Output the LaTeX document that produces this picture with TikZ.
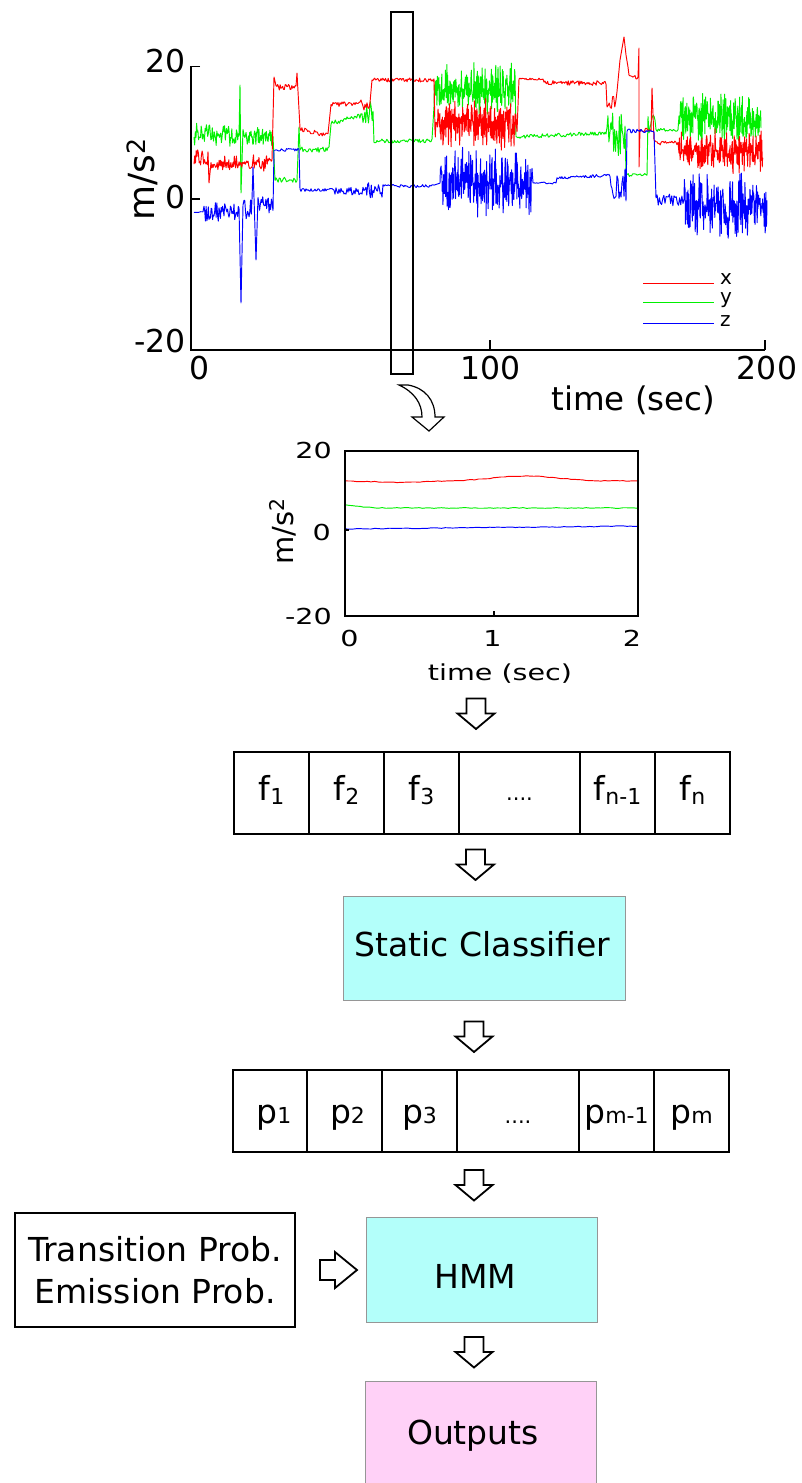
\documentclass[tikz,border=0pt]{standalone}
\usepackage{fontspec}
\setmainfont{DejaVu Sans}
\usetikzlibrary{calc}
\definecolor{sigR}{RGB}{255,0,0}
\definecolor{sigG}{RGB}{0,240,0}
\definecolor{sigB}{RGB}{0,0,255}
\definecolor{cyanfill}{RGB}{179,255,250}
\definecolor{pinkfill}{RGB}{255,209,247}
\definecolor{boxgray}{RGB}{150,150,150}
\newcommand\lowsub[1]{\raisebox{-4pt}{\fontsize{22}{26}\selectfont #1}}
\newcommand\flatsub[1]{{\fontsize{22}{26}\selectfont #1}}
\newcommand\smalldots{{\fontsize{21}{25}\selectfont ....}}
\begin{document}
\begin{tikzpicture}[x=1pt,y=-1pt,
  axline/.style={line width=1.2pt},
  rl/.style={draw=sigR, line width=0.95pt, line join=round},
  gl/.style={draw=sigG, line width=0.95pt, line join=round},
  bl/.style={draw=sigB, line width=0.95pt, line join=round},
  ptext/.style={font=\fontsize{31.5}{37}\selectfont, inner sep=0pt},
  stext/.style={font=\fontsize{22}{26}\selectfont, inner sep=0pt, xscale=1.3},
  legtext/.style={font=\fontsize{20}{24}\selectfont, inner sep=0pt, anchor=base west},
  btext/.style={font=\fontsize{33}{42}\selectfont, inner sep=0pt},
  cell/.style={draw, line width=1.2pt, minimum height=82pt, inner sep=0pt, font=\fontsize{33}{40}\selectfont},
  fcell/.style={cell, text height=20pt, text depth=6pt},
  pcell/.style={cell, text height=30pt, text depth=6pt},
  colbox/.style={draw=boxgray, line width=1pt, inner sep=0pt},
  blockarrow/.style={draw=black, fill=white, line width=1.8pt, line join=miter},
  downarrow/.pic={\draw[blockarrow] (-9.5,-15) -- (9.5,-15) -- (9.5,0) -- (18.5,0) -- (0,15.5) -- (-18.5,0) -- (-9.5,0) -- cycle;},
  rightarrow/.pic={\draw[blockarrow] (-18.5,-10) -- (-3.5,-10) -- (-3.5,-18) -- (18.5,0) -- (-3.5,18) -- (-3.5,10) -- (-18.5,10) -- cycle;}
]
\useasboundingbox (0,0) rectangle (802,1483);
\fill[white] (0,0) rectangle (802,1483);
\pgfmathsetseed{4711}

% ---------------- top plot: signals ----------------
\draw[gl] plot[domain=194:239,samples=70] (\x,{135+6*(rand+rand)})
 -- (240,85) -- (241,193)
 -- plot[domain=243:273,samples=50] (\x,{135+6*(rand+rand)})
 -- plot[domain=275:297,samples=22] (\x,{180+3*rand})
 -- (299,127)
 -- plot[domain=300:329,samples=30] (\x,{150+3*rand})
 -- plot[domain=331:362,samples=30] (\x,{123-0.25*(\x-331)+2.5*rand})
 -- plot[domain=363:373,samples=12] (\x,{115+18*rand})
 -- plot[domain=374:432,samples=60] (\x,{141+2*rand})
 -- plot[domain=434:515,samples=220] (\x,{90+14*(rand+rand)})
 -- plot[domain=516:606,samples=90] (\x,{137-0.045*(\x-516)+2*rand})
 -- plot[domain=607:625,samples=20] (\x,{135+22*rand})
 -- plot[domain=626:647,samples=20] (\x,{175+1.5*rand})
 -- plot[domain=648:655,samples=8] (\x,{125+10*rand})
 -- plot[domain=656:678,samples=20] (\x,{130+1.5*rand})
 -- plot[domain=679:761,samples=220] (\x,{118+13*(rand+rand)});

\draw[rl] plot[domain=194:208,samples=20] (\x,{157+8*rand})
 -- (209,183)
 -- plot[domain=211:272,samples=90] (\x,{163+4.5*(rand+rand)})
 -- (274,77)
 -- plot[domain=276:296,samples=25] (\x,{87+3*rand})
 -- (297,73)
 -- plot[domain=300:328,samples=30] (\x,{129+0.25*(\x-300)+2.5*rand})
 -- plot[domain=331:360,samples=30] (\x,{104+2.5*rand})
 -- (361,100)
 -- plot[domain=363:370,samples=8] (\x,{106+4*rand})
 -- plot[domain=372:434,samples=70] (\x,{80+2*rand})
 -- plot[domain=435:517,samples=220] (\x,{123+14*(rand+rand)})
 -- plot[domain=519:543,samples=25] (\x,{79+1*rand})
 -- plot[domain=544:606,samples=70] (\x,{83+2.5*rand})
 -- plot[domain=607:617,samples=10] (\x,{100+9*rand})
 -- (620,60) -- (624,37) -- (626,55) -- (628,67)
 -- plot[domain=629:638,samples=10] (\x,{77+2*rand})
 -- (639,48) -- (639,167) -- (640,130)
 -- plot[domain=641:651,samples=10] (\x,{130+2*rand})
 -- (652,88) -- (654,140)
 -- plot[domain=656:678,samples=22] (\x,{143+2*rand})
 -- plot[domain=679:763,samples=220] (\x,{152+12*(rand+rand)});

\draw[bl] plot[domain=194:203,samples=5] (\x,{212+0.5*rand})
 -- plot[domain=204:239,samples=50] (\x,{212+6*(rand+rand)})
 -- (241,303) -- (243,205)
 -- plot[domain=244:252,samples=12] (\x,{210+12*rand})
 -- (253,167) -- (256,260)
 -- plot[domain=258:273,samples=20] (\x,{205+6*(rand+rand)})
 -- plot[domain=274:299,samples=25] (\x,{150+1.5*rand})
 -- plot[domain=300:334,samples=35] (\x,{190+1.5*rand})
 -- plot[domain=335:364,samples=30] (\x,{191+4*rand})
 -- plot[domain=365:382,samples=20] (\x,{190+8*rand})
 -- plot[domain=383:434,samples=50] (\x,{186+1.5*rand})
 -- plot[domain=440:532,samples=250] (\x,{182+18*(rand+rand)})
 -- plot[domain=533:556,samples=20] (\x,{183+1*rand})
 -- plot[domain=557:610,samples=55] (\x,{178-0.05*(\x-557)+1.5*rand})
 -- plot[domain=611:626,samples=16] (\x,{185+18*rand})
 -- plot[domain=627:654,samples=28] (\x,{131+2*rand})
 -- plot[domain=656:683,samples=25] (\x,{200+6*rand})
 -- plot[domain=684:767,samples=230] (\x,{205+17*(rand+rand)});

% axes
\draw[axline] (200,66.7) -- (191,66.7) -- (191,350) -- (765,350);
\draw[axline] (191,199) -- (200,199);
\draw[axline] (490,350) -- (490,340);
\draw[axline] (765,350) -- (765,340);
\node[ptext, anchor=east] (ty20) at (186,61) {20};
\node[ptext, anchor=east] (ty0) at (186,197) {0};
\node[ptext, anchor=east] (tym20) at (186,341) {-20};
\node[ptext] (tx0) at (199.5,368.5) {0};
\node[ptext] (tx100) at (490.5,368.5) {100};
\node[ptext] (tx200) at (767,368.5) {200};
\node[ptext, font=\fontsize{32.5}{38}\selectfont] (ttime) at (633.5,400) {time (sec)};
\node[inner sep=0pt, font=\fontsize{36}{42}\selectfont, rotate=90] (tylab) at (142,179) {m/s\textsuperscript{2}};
% legend
\draw[rl] (643,283) -- (714,283);
\draw[gl] (643,302) -- (714,302);
\draw[bl] (643,323) -- (714,323);
\node[legtext] (lx) at (720,284) {x};
\node[legtext] (ly) at (720,303) {y};
\node[legtext] (lz) at (720,326) {z};
% selection window
\draw[line width=1.5pt] (391,12) rectangle (413,374);
% curved hollow arrow
\draw[line width=1.2pt, fill=white, line join=miter]
 (399,385) -- (408,385) .. controls (425,388) and (435,400) .. (435,417)
 -- (444,417) -- (429,431) -- (412,417) -- (422,417)
 .. controls (422,403) and (414,392) .. (399,385) -- cycle;

% ---------------- small plot ----------------
\draw[rl] plot[domain=345:638,samples=80] (\x,{481+1.5*exp(-((\x-400)/30)^2)-5*exp(-((\x-525)/45)^2)+0.4*rand});
\draw[gl] plot[domain=345:638,samples=80] (\x,{508-3*exp(-((\x-345)/18)^2)+0.4*rand});
\draw[bl] plot[domain=345:638,samples=80] (\x,{529-0.01*(\x-345)+0.4*rand});
\draw[axline] (345,451) rectangle (638,616);
\draw[axline] (494,616) -- (494,611);
\draw[axline] (345,530) -- (349,530);
\node[stext, anchor=east] (sy20) at (332,450.5) {20};
\node[stext, anchor=east] (sy0) at (331,532) {0};
\node[stext, anchor=east] (sym20) at (332,616) {-20};
\node[stext] (sx0) at (349.5,638.5) {0};
\node[stext] (sx1) at (492.5,638.5) {1};
\node[stext] (sx2) at (632,638.5) {2};
\node[stext] (stime) at (500,674) {time (sec)};
\node[inner sep=0pt, font=\fontsize{29}{34}\selectfont, rotate=90] (sylab) at (283,531) {m/s\textsuperscript{2}};

% ---------------- feature vector ----------------
\node[fcell, minimum width=75pt] (f1) at (271.5,793) {f\lowsub{1}};
\node[fcell, minimum width=75pt] (f2) at (346.5,793) {f\lowsub{2}};
\node[fcell, minimum width=75pt] (f3) at (421.5,793) {f\lowsub{3}};
\node[fcell, minimum width=121pt] (f4) at (519.5,793) {\smalldots};
\node[fcell, minimum width=75pt] (f5) at (617.5,793) {f\lowsub{n-1}};
\node[fcell, minimum width=75pt] (f6) at (692.5,793) {f\lowsub{n}};

% static classifier
\node[colbox, fill=cyanfill, minimum width=282pt, minimum height=104pt] (sc) at (484,948) {};
\node[btext] (sct) at (482.5,944.5) {Static Classifier};

% ---------------- probability vector ----------------
\node[pcell, minimum width=74pt] (p1) at (270,1111) {\hspace{8pt}p\flatsub{1}};
\node[pcell, minimum width=75pt] (p2) at (344.5,1111) {\hspace{6pt}p\flatsub{2}};
\node[pcell, minimum width=75pt] (p3) at (419.5,1111) {p\flatsub{3}};
\node[pcell, minimum width=122pt] (p4) at (518,1111) {\smalldots};
\node[pcell, minimum width=75pt] (p5) at (616.5,1111) {p\flatsub{m-1}};
\node[pcell, minimum width=75pt] (p6) at (691.5,1111) {p\flatsub{m}};

% HMM and priors
\node[draw, line width=1.2pt, minimum width=280pt, minimum height=114pt, inner sep=0pt, align=center, font=\fontsize{33}{42}\selectfont] (prior) at (155,1270) {Transition Prob.\\Emission Prob.};
\node[colbox, fill=cyanfill, minimum width=231pt, minimum height=105pt] (hmm) at (481.5,1269.5) {};
\node[btext] (hmmt) at (475.5,1276) {HMM};

% outputs
\node[colbox, fill=pinkfill, minimum width=231pt, minimum height=103.5pt] (out) at (480.5,1432.75) {};
\node[btext] (outt) at (473,1436) {Outputs};

% ---------------- block arrows ----------------
\pic at (476,713.5) {downarrow};
\pic at (475.5,864.5) {downarrow};
\pic at (474,1036.5) {downarrow};
\pic at (474,1185) {downarrow};
\pic at (474,1352) {downarrow};
\pic at (338.5,1270) {rightarrow};
\end{tikzpicture}
\end{document}
